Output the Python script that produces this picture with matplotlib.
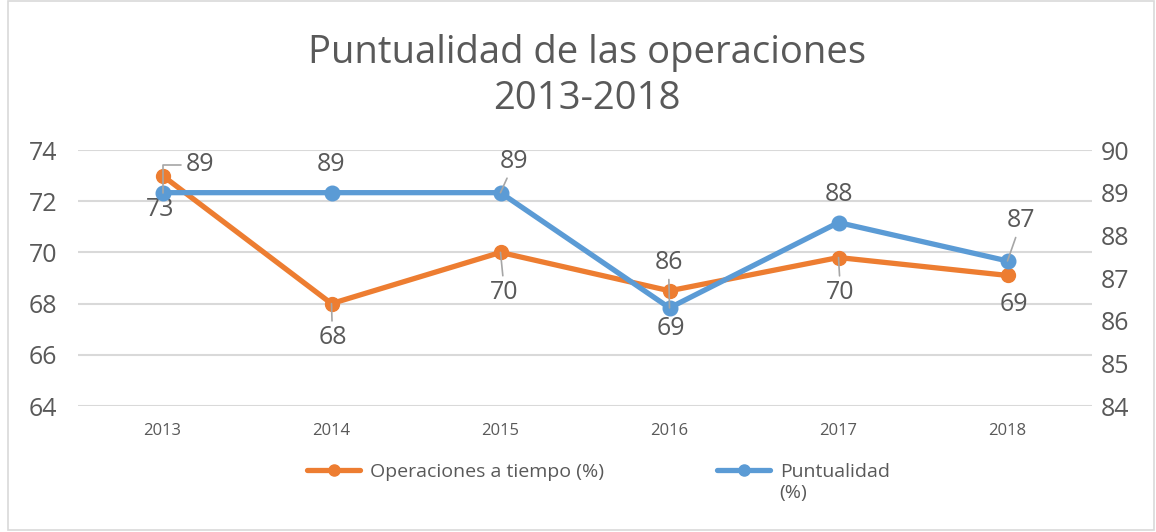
import matplotlib
matplotlib.use('Agg')

import matplotlib.pyplot as plt
from matplotlib.lines import Line2D
from matplotlib.patches import Rectangle

plt.rcParams['font.family'] = ['Open Sans', 'DejaVu Sans']

# data
years = ['2013', '2014', '2015', '2016', '2017', '2018']
ops_tiempo = [73.0, 68.0, 70.0, 68.5, 69.8, 69.1]
puntualidad = [89.0, 89.0, 89.0, 86.3, 88.3, 87.4]
left_ticks = [64, 66, 68, 70, 72, 74]
right_ticks = [84, 85, 86, 87, 88, 89, 90]

ORANGE = '#ED7D31'
BLUE = '#5B9BD5'
TXT = '#595959'
GRID = '#D9D9D9'
LEADER = '#A6A6A6'

# label offsets in pixels (dx, dy) and whether a leader line is drawn
ops_off = [(-2, -34, False), (1, -34, True), (4, -40, True),
           (1, -38, False), (2, -35, True), (6, -29, False)]
pun_off = [(38, 28, 'elbow'), (0, 28, False), (14, 31, True),
           (-1, 45, True), (0, 28, False), (14, 40, True)]


def lbl(v):
	return str(int(v + 0.5))


fig = plt.figure(figsize=(11.56, 5.32), dpi=100)
fig.add_artist(Rectangle((8 / 1156, 0.003), 1 - 8 / 1156 - 0.002, 0.995,
                         transform=fig.transFigure, fill=False,
                         edgecolor=GRID, linewidth=1.2))

ax = fig.add_axes([78 / 1156, 1 - 406 / 532, 1014 / 1156, 256 / 532])
ax2 = ax.twinx()

x = list(range(len(years)))

ax.plot(x, ops_tiempo, color=ORANGE, linewidth=3.8, marker='o',
        markersize=10, solid_capstyle='round', zorder=3)
ax2.plot(x, puntualidad, color=BLUE, linewidth=3.8, marker='o',
         markersize=10.5, solid_capstyle='round', zorder=3)

ax.set_xlim(-0.5, 5.5)
ax.set_ylim(64, 74)
ax2.set_ylim(84, 90)
ax.set_yticks(left_ticks)
ax2.set_yticks(right_ticks)
ax.set_xticks(x)
ax.set_xticklabels(years)
ax.grid(axis='y', color=GRID, linewidth=1.5)
ax.set_axisbelow(True)

for a in (ax, ax2):
	for s in a.spines.values():
		s.set_visible(False)
ax.tick_params(axis='x', length=0, pad=12, labelsize=12, labelcolor=TXT)
ax.tick_params(axis='y', length=0, pad=15, labelsize=18, labelcolor=TXT)
ax2.tick_params(axis='y', length=0, pad=6, labelsize=18, labelcolor=TXT)

# data labels
for i, v in enumerate(ops_tiempo):
	dx, dy, lead = ops_off[i]
	ap = None
	if lead:
		ap = dict(arrowstyle='-', color=LEADER, linewidth=1.2, shrinkA=1, shrinkB=0)
	ax.annotate(lbl(v), (i, v), xytext=(dx, dy), textcoords='offset pixels',
	            ha='center', va='center', fontsize=18, color=TXT,
	            arrowprops=ap, zorder=5)

for i, v in enumerate(puntualidad):
	dx, dy, lead = pun_off[i]
	ap = None
	if lead == 'elbow':
		ap = dict(arrowstyle='-', color=LEADER, linewidth=1.2, shrinkA=2, shrinkB=0,
		          connectionstyle='angle,angleA=180,angleB=90,rad=0')
	elif lead:
		ap = dict(arrowstyle='-', color=LEADER, linewidth=1.2, shrinkA=1, shrinkB=0)
	ax2.annotate(lbl(v), (i, v), xytext=(dx, dy), textcoords='offset pixels',
	             ha='center', va='center', fontsize=18, color=TXT,
	             arrowprops=ap, zorder=5)

fig.text(0.508, 1 - 76 / 532, 'Puntualidad de las operaciones\n2013-2018',
         ha='center', va='center', fontsize=27.5, color=TXT, linespacing=1.25)

handles = [Line2D([], [], color=ORANGE, linewidth=3.8, marker='o', markersize=8,
                  solid_capstyle='round'),
           Line2D([], [], color=BLUE, linewidth=3.8, marker='o', markersize=8,
                  solid_capstyle='round')]
leg = fig.legend(handles, ['Operaciones a tiempo (%)', 'Puntualidad'],
                 loc='upper left', bbox_to_anchor=(0.266, 1 - 463 / 532),
                 ncol=2, frameon=False, fontsize=14, handlelength=2.7,
                 handletextpad=0.5, columnspacing=5.85, borderpad=0,
                 borderaxespad=0)
for t in leg.get_texts():
	t.set_color(TXT)

# second line of the wrapped legend label
fig.canvas.draw()
bb = leg.get_texts()[1].get_window_extent().transformed(fig.transFigure.inverted())
fig.text(bb.x0, bb.y0 - 0.006, '(%)', ha='left', va='top', fontsize=14, color=TXT)

plt.savefig('out.png', dpi=100)
